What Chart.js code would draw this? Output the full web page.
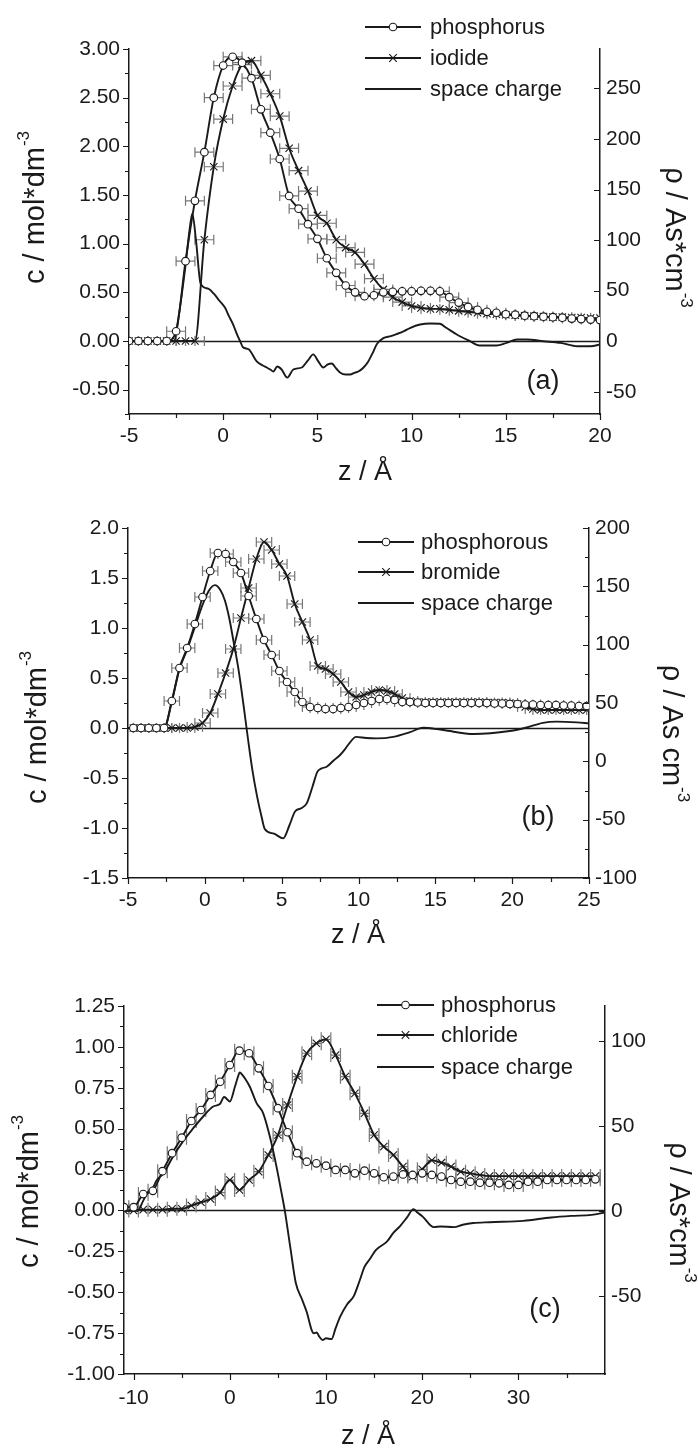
<!DOCTYPE html>
<html>
<head>
<meta charset="utf-8">
<title>Concentration and space charge profiles</title>
<script src="https://cdn.jsdelivr.net/npm/chart.js@4.4.1/dist/chart.umd.min.js"></script>
<style>
html,body{margin:0;padding:0;background:#fff;}
body{position:relative;width:698px;height:1450px;overflow:hidden;}
canvas{position:absolute;left:0;}
</style>
</head>
<body>
<canvas id="pa" width="698" height="483" style="top:0px"></canvas>
<canvas id="pb" width="698" height="480" style="top:483px"></canvas>
<canvas id="pc" width="698" height="487" style="top:963px"></canvas>
<script>
// ================= DATA =================
// ---- panel (a): phosphorus / iodide ----
const aNames = ['phosphorus', 'iodide', 'space charge'];
const aZ = [-5,-4.5,-4,-3.5,-3,-2.5,-2,-1.5,-1,-0.5,0,0.5,1,1.5,2,2.5,3,3.5,4,4.5,5,5.5,6,6.5,7,7.5,8,8.5,9,9.5,10,10.5,11,11.5,12,12.5,13,13.5,14,14.5,15,15.5,16,16.5,17,17.5,18,18.5,19,19.5,20];
const aPhos = [0,0,0,0,0,0.10,0.82,1.44,1.94,2.50,2.83,2.92,2.86,2.70,2.38,2.14,1.87,1.49,1.36,1.20,1.05,0.85,0.70,0.57,0.50,0.46,0.47,0.50,0.505,0.51,0.51,0.515,0.515,0.51,0.45,0.395,0.35,0.32,0.30,0.29,0.275,0.27,0.26,0.255,0.25,0.245,0.24,0.23,0.225,0.22,0.215];
const aIod = [0,0,0,0,0,0,0,0,1.04,1.79,2.28,2.62,2.84,2.88,2.73,2.54,2.31,1.98,1.75,1.54,1.29,1.21,1.04,0.96,0.91,0.79,0.64,0.53,0.45,0.40,0.36,0.34,0.33,0.33,0.32,0.31,0.30,0.29,0.28,0.275,0.27,0.265,0.26,0.255,0.25,0.245,0.245,0.24,0.24,0.235,0.235];
const aRhoZ = [-5,-2.6,-2.4,-2.0,-1.8,-1.64,-1.44,-1.2,-0.8,-0.5,-0.2,0.1,0.3,0.54,0.75,0.9,1.05,1.35,1.78,2.1,2.31,2.5,2.66,2.87,3.1,3.4,3.72,4.17,4.5,4.78,5.05,5.31,5.55,5.76,6.0,6.2,6.5,6.73,7.0,7.17,7.45,7.7,7.95,8.15,8.5,8.9,9.2,9.6,9.91,10.45,11.0,11.5,11.86,12.4,13.1,13.6,14.5,15.04,15.6,16.1,17.0,17.9,18.8,19.5,20];
const aRho = [0,0,20,75,108,126,99,57,52,47,40,33,25,16,6,0,-6,-8,-20,-24,-26,-28,-30,-25,-28,-36,-28,-26,-19,-13,-20,-26,-23,-22,-27,-31,-33,-33,-31,-30,-26,-20,-11,-3,3,5,7,10,13,16.5,17.5,17.2,13,6.6,0,-4.3,-4.3,-1.7,1.7,1.7,0,-1.7,-5,-5,-3.3];
const aErrZ = 0.5;
const aXTicks = [-5,0,5,10,15,20];
const aYTicks = [-0.5,0,0.5,1,1.5,2,2.5,3];
const aY2Ticks = [-50,0,50,100,150,200,250];

// ---- panel (b): phosphorous / bromide ----
const bNames = ['phosphorous', 'bromide', 'space charge'];
const bZ = [-4.65,-4.15,-3.65,-3.15,-2.65,-2.15,-1.65,-1.15,-0.65,-0.15,0.35,0.85,1.35,1.85,2.35,2.85,3.35,3.85,4.35,4.85,5.35,5.85,6.35,6.85,7.35,7.85,8.35,8.85,9.35,9.85,10.35,10.85,11.35,11.85,12.35,12.85,13.35,13.85,14.35,14.85,15.35,15.85,16.35,16.85,17.35,17.85,18.35,18.85,19.35,19.85,20.35,20.85,21.35,21.85,22.35,22.85,23.35,23.85,24.35,24.85];
const bPhos = [0,0,0,0,0,0.27,0.60,0.80,1.04,1.31,1.57,1.75,1.74,1.66,1.55,1.32,1.09,0.88,0.73,0.57,0.46,0.36,0.26,0.21,0.20,0.19,0.19,0.20,0.21,0.23,0.25,0.27,0.29,0.29,0.28,0.26,0.26,0.255,0.25,0.25,0.25,0.25,0.25,0.25,0.25,0.25,0.25,0.245,0.245,0.24,0.24,0.235,0.235,0.23,0.23,0.23,0.225,0.225,0.22,0.22];
const bBrom = [0,0,0,0,0,0,0,0,0.01,0.05,0.15,0.34,0.55,0.79,1.10,1.40,1.69,1.86,1.78,1.64,1.52,1.24,1.06,0.88,0.62,0.59,0.54,0.46,0.36,0.31,0.33,0.36,0.38,0.37,0.34,0.30,0.27,0.26,0.26,0.26,0.26,0.26,0.26,0.26,0.26,0.26,0.255,0.255,0.255,0.25,0.24,0.21,0.19,0.18,0.18,0.18,0.18,0.18,0.18,0.18];
const bRhoZ = [-5,-2.65,-2.15,-1.65,-1.15,-0.65,-0.15,0.25,0.66,1.0,1.3,1.6,1.85,2.2,2.5,2.8,3.1,3.4,3.7,3.9,4.5,5.1,5.5,5.87,6.3,6.63,7.0,7.32,7.6,7.93,8.4,8.8,9.1,9.4,9.84,10.5,11.17,12.26,13.35,14.2,15.5,17.5,19.85,20.94,22.0,22.9,24.2,25];
const bRho = [28.6,28.6,51,79,96,115,134,146,151,147,138,122,104,78,50,20,-8,-30,-48,-58,-62,-66,-55,-43,-40,-36,-22,-9,-6,-4.6,1,5.4,10,15.4,21,20,19.7,21,25,28.8,26.8,23.4,26,29,33,34,33.4,32.6];
const bErrZ = 0.5;
const bXTicks = [-5,0,5,10,15,20,25];
const bYTicks = [-1.5,-1,-0.5,0,0.5,1,1.5,2];
const bY2Ticks = [-100,-50,0,50,100,150,200];

// ---- panel (c): phosphorus / chloride ----
const cNames = ['phosphorus', 'chloride', 'space charge'];
const cZ = [-11,-10,-9,-8,-7,-6,-5,-4,-3,-2,-1,0,1,2,3,4,5,6,7,8,9,10,11,12,13,14,15,16,17,18,19,20,21,22,23,24,25,26,27,28,29,30,31,32,33,34,35,36,37,38];
const cPhos = [0.02,0.02,0.10,0.12,0.24,0.35,0.445,0.547,0.614,0.706,0.787,0.889,0.977,0.961,0.869,0.761,0.625,0.478,0.35,0.298,0.288,0.274,0.248,0.248,0.227,0.243,0.227,0.203,0.207,0.22,0.217,0.227,0.217,0.207,0.186,0.176,0.176,0.17,0.17,0.166,0.156,0.156,0.176,0.176,0.186,0.186,0.186,0.186,0.186,0.19];
const cChl = [0,0,0.005,0.005,0.005,0.01,0.01,0.03,0.05,0.07,0.109,0.186,0.125,0.186,0.237,0.339,0.461,0.645,0.818,0.961,1.022,1.046,0.95,0.818,0.716,0.594,0.461,0.39,0.339,0.268,0.207,0.252,0.306,0.292,0.268,0.237,0.227,0.217,0.21,0.21,0.21,0.21,0.21,0.21,0.21,0.21,0.21,0.21,0.21,0.21];
const cRhoZ = [-11,-9.6,-9.0,-8.5,-7.95,-7.6,-6.9,-5.9,-4.85,-3.8,-2.77,-1.73,-1.03,-0.6,-0.34,0.0,0.53,0.8,1.04,1.3,1.56,2.08,2.78,3.46,4.16,4.85,5.38,5.72,6.3,6.86,7.5,8.02,8.5,8.72,9.04,9.3,9.64,10.0,10.57,11.0,11.5,12.2,12.9,13.5,14.0,14.5,15.2,16.35,17.0,17.7,18.4,19.1,19.5,20.05,21.2,21.9,23.3,24.2,25.3,27,30.5,33.4,35.5,37.6,39];
const cRho = [0,0,6,11,14,18,22,32,41,48.6,55.5,61.4,62.8,67,66,64.3,73,78,81.4,80,78,73,63.4,57.5,43.7,26,10.4,0,-22,-42.5,-52,-60,-70,-72,-71.6,-74,-76,-75,-75.5,-69,-62,-55,-50,-41,-33,-28.8,-23,-18,-13,-9,-4,1,-1,-3.4,-9.6,-9.2,-9.6,-8.2,-7.2,-6.7,-5.9,-3.9,-3.0,-2.4,-1];
const cErrZ = 0.5;
const cXTicks = [-10,0,10,20,30];
const cYTicks = [-1,-0.75,-0.5,-0.25,0,0.25,0.5,0.75,1,1.25];
const cY2Ticks = [-50,0,50,100];

// ================= STYLE / LAYOUT =================
const FONT = "'Liberation Sans', Arial, Helvetica, sans-serif";
const INK = '#1a1a1a';
const ERRC = '#767676';
const TICK = 21, LEG = 22, YTITLE = 29, XTITLE = 27, TAG = 27;
Chart.defaults.font.family = FONT;
Chart.defaults.color = INK;

function near(v, list) { return list.some(t => Math.abs(t - v) < 1e-7); }
function pts(zs, vs) { return zs.map((z, i) => ({x: z, y: vs[i]})); }
function stepTicks(min, max, step) {
  const out = [];
  const k0 = Math.ceil(min / step - 1e-9), k1 = Math.floor(max / step + 1e-9);
  for (let k = k0; k <= k1; k++) out.push({ value: Math.round(k * step * 1e6) / 1e6 });
  return out;
}

function drawTitle(ctx, x, y, rot, main, sup, size) {
  ctx.save();
  ctx.translate(x, y); ctx.rotate(rot);
  ctx.fillStyle = INK; ctx.textBaseline = 'middle'; ctx.textAlign = 'left';
  ctx.font = size + 'px ' + FONT; const w1 = ctx.measureText(main).width;
  const sf = Math.round(size * 0.6) + 'px ' + FONT;
  let w2 = 0;
  if (sup) { ctx.font = sf; w2 = ctx.measureText(sup).width; }
  const sx = -(w1 + w2) / 2;
  ctx.font = size + 'px ' + FONT; ctx.fillText(main, sx, 0);
  if (sup) { ctx.font = sf; ctx.fillText(sup, sx + w1 + 1, -size * 0.42); }
  ctx.restore();
}

function makeDeco(P) {
  return {
    id: 'deco',
    beforeDatasetsDraw(chart) {
      const ctx = chart.ctx, ca = chart.chartArea, xs = chart.scales.x, ys = chart.scales.y;
      ctx.save();
      ctx.beginPath(); ctx.rect(ca.left, ca.top - 12, ca.right - ca.left, ca.bottom - ca.top + 12); ctx.clip();
      ctx.strokeStyle = INK; ctx.lineWidth = 1.3;
      const y0 = Math.round(ys.getPixelForValue(0)) + 0.5;
      ctx.beginPath(); ctx.moveTo(ca.left, y0); ctx.lineTo(ca.right, y0); ctx.stroke();
      ctx.strokeStyle = ERRC; ctx.lineWidth = 1.2;
      chart.data.datasets.forEach(ds => {
        if (!ds.errZ) return;
        const sy = chart.scales[ds.yAxisID];
        ctx.beginPath();
        ds.data.forEach(p => {
          const x1 = xs.getPixelForValue(p.x - ds.errZ), x2 = xs.getPixelForValue(p.x + ds.errZ);
          const py = sy.getPixelForValue(p.y);
          ctx.moveTo(x1, py); ctx.lineTo(x2, py);
          ctx.moveTo(x1, py - P.cap); ctx.lineTo(x1, py + P.cap);
          ctx.moveTo(x2, py - P.cap); ctx.lineTo(x2, py + P.cap);
        });
        ctx.stroke();
      });
      ctx.restore();
    },
    afterDraw(chart) {
      const ctx = chart.ctx, ca = chart.chartArea;
      const xs = chart.scales.x, ys = chart.scales.y, y2 = chart.scales.y2;
      ctx.save();
      ctx.strokeStyle = INK; ctx.lineWidth = 1.2;
      ctx.beginPath();
      xs.ticks.forEach(t => {
        const len = near(t.value, P.xTicks) ? 6 : 4;
        const px = Math.round(xs.getPixelForValue(t.value)) + 0.5;
        ctx.moveTo(px, ca.bottom); ctx.lineTo(px, ca.bottom + len);
      });
      ys.ticks.forEach(t => {
        const len = near(t.value, P.yTicks) ? 6 : 4;
        const py = Math.round(ys.getPixelForValue(t.value)) + 0.5;
        ctx.moveTo(ca.left, py); ctx.lineTo(ca.left - len, py);
      });
      y2.ticks.forEach(t => {
        const len = near(t.value, P.y2Ticks) ? 6 : 4;
        const py = Math.round(y2.getPixelForValue(t.value)) + 0.5;
        ctx.moveTo(ca.right, py); ctx.lineTo(ca.right - len, py);
      });
      ctx.stroke();
      // axis titles
      drawTitle(ctx, P.xTitle.x, P.xTitle.y, 0, 'z / Å', '', XTITLE);
      drawTitle(ctx, P.yTitle.x, P.yTitle.y, -Math.PI / 2, P.yTitle.main, '-3', YTITLE);
      drawTitle(ctx, P.y2Title.x, P.y2Title.y, Math.PI / 2, P.y2Title.main, '-3', YTITLE);
      // legend
      const L = P.legend;
      chart.data.datasets.forEach((ds, i) => {
        const y = L.ys[i];
        ctx.strokeStyle = INK; ctx.lineWidth = 1.9;
        ctx.beginPath(); ctx.moveTo(L.x1, y); ctx.lineTo(L.x2, y); ctx.stroke();
        const mx = (L.x1 + L.x2) / 2;
        ctx.lineWidth = 1.1;
        if (ds.pointRadius > 0 && ds.pointStyle === 'circle') {
          ctx.beginPath(); ctx.arc(mx, y, 3.8, 0, Math.PI * 2);
          ctx.fillStyle = '#fff'; ctx.fill(); ctx.stroke();
        } else if (ds.pointRadius > 0) {
          const d = 3.8;
          ctx.beginPath();
          ctx.moveTo(mx - d, y - d); ctx.lineTo(mx + d, y + d);
          ctx.moveTo(mx - d, y + d); ctx.lineTo(mx + d, y - d);
          ctx.stroke();
        }
        ctx.fillStyle = INK; ctx.font = LEG + 'px ' + FONT;
        ctx.textBaseline = 'middle'; ctx.textAlign = 'left';
        ctx.fillText(ds.label, L.tx, y + 1);
      });
      // panel tag
      ctx.fillStyle = INK; ctx.font = TAG + 'px ' + FONT;
      ctx.textAlign = 'center'; ctx.textBaseline = 'middle';
      ctx.fillText(P.tag.text, P.tag.x, P.tag.y);
      ctx.restore();
    }
  };
}

function markerSet(label, zs, vs, style, err) {
  return {
    label, data: pts(zs, vs), yAxisID: 'y', errZ: err,
    borderColor: INK, borderWidth: 1.9, fill: false,
    pointStyle: style, pointRadius: style === 'circle' ? 3.8 : 5.2,
    pointBorderWidth: 1.1, pointBackgroundColor: '#fff', pointBorderColor: INK,
    tension: 0.3, cubicInterpolationMode: 'monotone'
  };
}
function chargeSet(label, zs, vs) {
  return {
    label, data: pts(zs, vs), yAxisID: 'y2',
    borderColor: INK, borderWidth: 1.9, fill: false,
    pointStyle: 'circle', pointRadius: 0,
    tension: 0.3, cubicInterpolationMode: 'monotone'
  };
}

function buildChart(id, P, datasets) {
  const hid = 'rgba(0,0,0,0)';
  return new Chart(document.getElementById(id), {
    type: 'line',
    data: { datasets },
    options: {
      responsive: false, animation: false, events: [],
      layout: { padding: { top: P.T, left: 0, right: 0, bottom: 0 } },
      plugins: { legend: { display: false }, tooltip: { enabled: false } },
      scales: {
        x: {
          type: 'linear', position: 'bottom', min: P.xMin, max: P.xMax,
          afterFit: s => { s.height = P.H - P.B; },
          afterBuildTicks: s => { s.ticks = stepTicks(P.xMin, P.xMax, P.xStep); },
          border: { display: true, color: INK, width: 1.5 },
          grid: { display: true, drawOnChartArea: false, drawTicks: true, tickLength: 6, tickColor: hid, color: hid },
          ticks: { autoSkip: false, maxRotation: 0, minRotation: 0,
                   padding: P.xPad, font: { size: TICK }, color: INK,
                   callback: v => near(v, P.xTicks) ? String(v) : '' }
        },
        y: {
          type: 'linear', position: 'left', min: P.yMin, max: P.yMax,
          afterFit: s => { s.width = P.L; },
          afterBuildTicks: s => { s.ticks = stepTicks(P.yMin, P.yMax, P.yStep); },
          border: { display: true, color: INK, width: 1.5 },
          grid: { display: true, drawOnChartArea: false, drawTicks: true, tickLength: 6, tickColor: hid, color: hid },
          ticks: { autoSkip: false, padding: 3,
                   font: { size: TICK }, color: INK,
                   callback: v => near(v, P.yTicks) ? v.toFixed(P.yDec) : '' }
        },
        y2: {
          type: 'linear', position: 'right', min: P.y2Min, max: P.y2Max,
          afterFit: s => { s.width = 698 - P.R; },
          afterBuildTicks: s => { s.ticks = stepTicks(P.y2Min, P.y2Max, P.y2Step); },
          border: { display: true, color: INK, width: 1.5 },
          grid: { display: true, drawOnChartArea: false, drawTicks: false, color: hid },
          ticks: { autoSkip: false, padding: 6,
                   font: { size: TICK }, color: INK,
                   callback: v => near(v, P.y2Ticks) ? String(v) : '' }
        }
      }
    },
    plugins: [makeDeco(P)]
  });
}

// ---- panel (a)
buildChart('pa', {
  H: 483, L: 129, R: 600, T: 49, B: 414, cap: 5, xPad: 4,
  xMin: -5, xMax: 20, xStep: 2.5, xTicks: aXTicks,
  yMin: -0.75, yMax: 3.0, yStep: 0.25, yTicks: aYTicks, yDec: 2,
  y2Min: -72, y2Max: 289, y2Step: 50, y2Ticks: aY2Ticks,
  xTitle: { x: 365, y: 473 },
  yTitle: { x: 36, y: 208, main: 'c / mol*dm' },
  y2Title: { x: 674, y: 237, main: 'ρ / As*cm' },
  legend: { x1: 365, x2: 421, tx: 430, ys: [27, 58, 89] },
  tag: { x: 543, y: 382, text: '(a)' }
}, [
  markerSet(aNames[0], aZ, aPhos, 'circle', aErrZ),
  markerSet(aNames[1], aZ, aIod, 'crossRot', aErrZ),
  chargeSet(aNames[2], aRhoZ, aRho)
]);

// ---- panel (b)
buildChart('pb', {
  H: 480, L: 128, R: 589, T: 45, B: 395, cap: 5, xPad: 4,
  xMin: -5, xMax: 25, xStep: 2.5, xTicks: bXTicks,
  yMin: -1.5, yMax: 2.0, yStep: 0.25, yTicks: bYTicks, yDec: 1,
  y2Min: -100, y2Max: 200, y2Step: 25, y2Ticks: bY2Ticks,
  xTitle: { x: 358, y: 453 },
  yTitle: { x: 38, y: 245, main: 'c / mol*dm' },
  y2Title: { x: 671, y: 250, main: 'ρ / As cm' },
  legend: { x1: 358, x2: 414, tx: 421, ys: [59, 89, 120] },
  tag: { x: 538, y: 335, text: '(b)' }
}, [
  markerSet(bNames[0], bZ, bPhos, 'circle', bErrZ),
  markerSet(bNames[1], bZ, bBrom, 'crossRot', bErrZ),
  chargeSet(bNames[2], bRhoZ, bRho)
]);

// ---- panel (c)
buildChart('pc', {
  H: 487, L: 124, R: 605, T: 43, B: 411, cap: 7, xPad: 6,
  xMin: -11, xMax: 39, xStep: 5, xTicks: cXTicks,
  yMin: -1, yMax: 1.25, yStep: 0.125, yTicks: cYTicks, yDec: 2,
  y2Min: -96, y2Max: 120.5, y2Step: 50, y2Ticks: cY2Ticks,
  xTitle: { x: 368, y: 474 },
  yTitle: { x: 30, y: 229, main: 'c / mol*dm' },
  y2Title: { x: 678, y: 249, main: 'ρ / As*cm' },
  legend: { x1: 377, x2: 434, tx: 441, ys: [42, 72, 104] },
  tag: { x: 545, y: 347, text: '(c)' }
}, [
  markerSet(cNames[0], cZ, cPhos, 'circle', cErrZ),
  markerSet(cNames[1], cZ, cChl, 'crossRot', cErrZ),
  chargeSet(cNames[2], cRhoZ, cRho)
]);
</script>
</body>
</html>
